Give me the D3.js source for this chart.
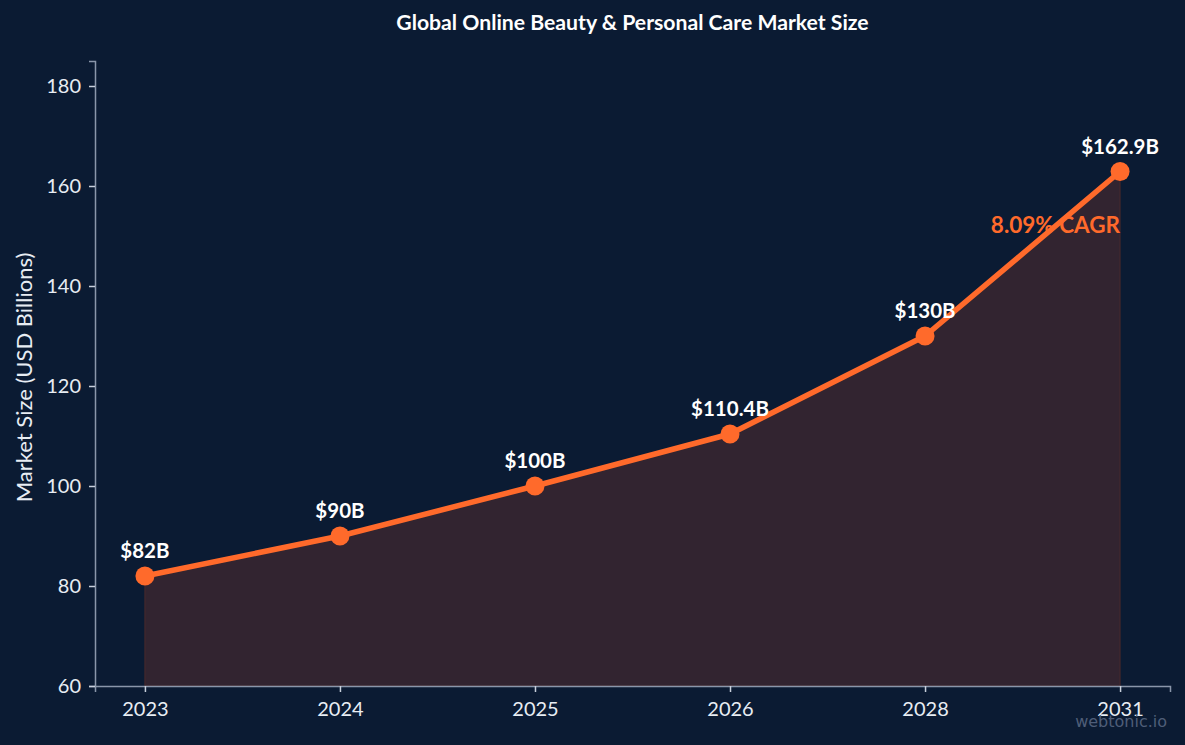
<!DOCTYPE html>
<html>
<head>
<meta charset="utf-8">
<script src="https://cdn.jsdelivr.net/npm/d3@7"></script>
<style>
  html, body { margin: 0; padding: 0; background: #0b1b33; }
  svg { display: block; font-family: Lato, sans-serif; }
</style>
</head>
<body>
<svg width="1185" height="745"></svg>
<script>
// chart values
const years = ['2023', '2024', '2025', '2026', '2028', '2031'];
const sizes = [82, 90, 100, 110.4, 130, 162.9];
const labels = ['$82B', '$90B', '$100B', '$110.4B', '$130B', '$162.9B'];
const yTicks = [60, 80, 100, 120, 140, 160, 180];

const svg = d3.select('svg');
const width = +svg.attr('width');
const height = +svg.attr('height');
const margin = {top: 61, right: 15, bottom: 59, left: 95};

const x = d3.scalePoint()
  .domain(years)
  .range([margin.left, width - margin.right])
  .padding(0.256);

const y = d3.scaleLinear()
  .domain([60, 185])
  .range([height - margin.bottom, margin.top]);

const data = years.map((yr, i) => ({year: yr, value: sizes[i], label: labels[i]}));

// title sits over the plot area, not the whole page
svg.append('text')
  .attr('x', (margin.left + width - margin.right) / 2)
  .attr('y', 30)
  .attr('text-anchor', 'middle')
  .attr('fill', '#ffffff')
  .attr('font-weight', 700)
  .attr('font-size', 21.2)
  .text('Global Online Beauty & Personal Care Market Size');

// area under the line
svg.append('path')
  .datum(data)
  .attr('fill', '#322430')
  .attr('stroke', '#4a2a2c')
  .attr('stroke-width', 1)
  .attr('d', d3.area()
    .x((d) => x(d.year))
    .y0(y(60))
    .y1((d) => y(d.value)));

// axes
const xAxis = svg.append('g')
  .attr('transform', `translate(0,${y(60)})`)
  .call(d3.axisBottom(x).tickSizeOuter(0).tickSize(6).tickPadding(10));

const yAxis = svg.append('g')
  .attr('transform', `translate(${margin.left},0)`)
  .call(d3.axisLeft(y).tickValues(yTicks).tickSizeOuter(0).tickSize(6).tickPadding(8));

[xAxis, yAxis].forEach((g) => {
  g.select('.domain').attr('stroke', '#8a96aa').attr('stroke-width', 1.5);
  g.selectAll('.tick line').attr('stroke', '#c8d0dc').attr('stroke-width', 1.5);
  g.selectAll('.tick text')
    .attr('fill', '#e8edf3')
    .attr('font-family', 'Lato, sans-serif')
    .attr('font-size', 20);
});

svg.append('text')
  .attr('transform', `translate(32,${(y(60) + y(185)) / 2 + 4}) rotate(-90)`)
  .attr('text-anchor', 'middle')
  .attr('fill', '#e8edf3')
  .attr('font-size', 22)
  .text('Market Size (USD Billions)');

// line
svg.append('path')
  .datum(data)
  .attr('fill', 'none')
  .attr('stroke', '#ff6a2b')
  .attr('stroke-width', 5.5)
  .attr('stroke-linejoin', 'round')
  .attr('d', d3.line()
    .x((d) => x(d.year))
    .y((d) => y(d.value)));

svg.selectAll('circle.pt')
  .data(data)
  .enter()
  .append('circle')
  .attr('class', 'pt')
  .attr('cx', (d) => x(d.year))
  .attr('cy', (d) => y(d.value))
  .attr('r', 9.5)
  .attr('fill', '#ff6a2b');

svg.selectAll('text.val')
  .data(data)
  .enter()
  .append('text')
  .attr('class', 'val')
  .attr('x', (d) => x(d.year))
  .attr('y', (d) => y(d.value) - 18)
  .attr('text-anchor', 'middle')
  .attr('fill', '#ffffff')
  .attr('font-weight', 700)
  .attr('font-size', 20.5)
  .text((d) => d.label);

const last = data[data.length - 1];
svg.append('text')
  .attr('x', x(last.year))
  .attr('y', y(last.value) + 61)
  .attr('text-anchor', 'end')
  .attr('fill', '#ff6a2b')
  .attr('font-weight', 700)
  .attr('font-size', 22.5)
  .text('8.09% CAGR');

svg.append('text')
  .attr('x', width - 18)
  .attr('y', 727)
  .attr('text-anchor', 'end')
  .attr('fill', '#4f5e78')
  .attr('font-family', 'DejaVu Sans, sans-serif')
  .attr('font-size', 16)
  .text('webtonic.io');
</script>
</body>
</html>
